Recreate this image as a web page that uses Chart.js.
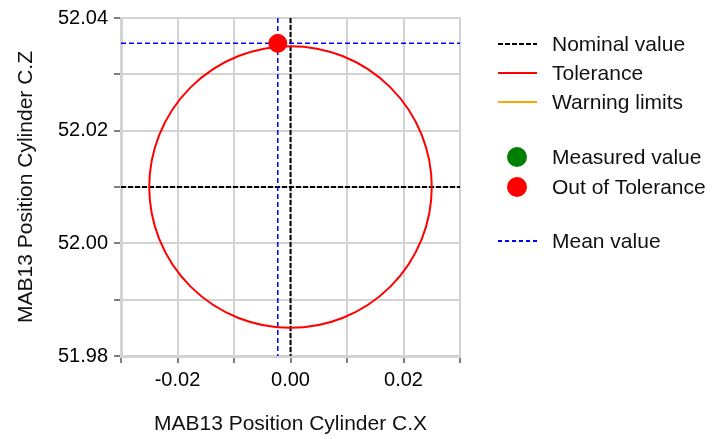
<!DOCTYPE html>
<html>
<head>
<meta charset="utf-8">
<script src="https://cdn.jsdelivr.net/npm/chart.js@4"></script>
<style>
  body { margin: 0; background: #fff; font-family: "Liberation Sans", Arial, sans-serif; }
  #wrap { position: relative; width: 720px; height: 439px; }
  .leyenda { position: absolute; left: 0; top: 0; font-size: 21px; color: #111; }
  .fila { position: absolute; left: 498px; height: 24px; white-space: nowrap; }
  .muestra { position: absolute; left: 0; width: 39px; height: 2px; top: 11px; }
  .marca { position: absolute; left: 9px; width: 20px; height: 20px; border-radius: 50%; top: 2px; }
  .texto { position: absolute; left: 54px; top: 0; line-height: 24px; }
</style>
</head>
<body>
<div id="wrap">
  <canvas id="grafico" width="720" height="439"></canvas>
  <div class="leyenda" id="leyenda"></div>
</div>
<script>
// Datos
const ejeXTitulo = 'MAB13 Position Cylinder C.X';
const ejeZTitulo = 'MAB13 Position Cylinder C.Z';
const rangoX = [-0.03, 0.03];
const rangoZ = [51.98, 52.04];
const nominalX = [0.0];
const nominalZ = [52.01];
const toleranciaRadio = [0.025];
const medidoX = [-0.00225];
const medidoZ = [52.0355];
const mediaX = [-0.00225];
const mediaZ = [52.0355];

// Leyenda (texto real en HTML)
const leyendaItems = [
    { tipo: 'linea', texto: 'Nominal value', estilo: 'repeating-linear-gradient(90deg,#000 0 5px,transparent 5px 7px)', y: 32 },
    { tipo: 'linea', texto: 'Tolerance', estilo: '#ff0000', y: 61 },
    { tipo: 'linea', texto: 'Warning limits', estilo: '#ffa500', y: 90 },
    { tipo: 'punto', texto: 'Measured value', estilo: '#008000', y: 145 },
    { tipo: 'punto', texto: 'Out of Tolerance', estilo: '#ff0000', y: 175 },
    { tipo: 'linea', texto: 'Mean value', estilo: 'repeating-linear-gradient(90deg,#0000ff 0 4px,transparent 4px 7px)', y: 229 }
];
const leyenda = document.getElementById('leyenda');
leyendaItems.forEach(item => {
    const fila = document.createElement('div');
    fila.className = 'fila';
    fila.style.top = item.y + 'px';
    const m = document.createElement('div');
    m.className = item.tipo === 'linea' ? 'muestra' : 'marca';
    m.style.background = item.estilo;
    if (item.tipo === 'linea' && item.texto === 'Mean value') { m.style.height = '1.5px'; }
    const t = document.createElement('span');
    t.className = 'texto';
    t.textContent = item.texto;
    fila.appendChild(m);
    fila.appendChild(t);
    leyenda.appendChild(fila);
});

// Plugin: líneas nominales, media y círculo de tolerancia
const dibujoTolerancia = {
    id: 'dibujoTolerancia',
    beforeDatasetsDraw(chart) {
        const { ctx, chartArea, scales } = chart;
        const x = scales.x, y = scales.y;
        ctx.save();
        ctx.beginPath();
        ctx.rect(chartArea.left, chartArea.top, chartArea.right - chartArea.left, chartArea.bottom - chartArea.top);
        ctx.clip();

        // nominal (negro discontinuo)
        ctx.strokeStyle = '#000';
        ctx.lineWidth = 2;
        ctx.setLineDash([5, 2]);
        const nx = x.getPixelForValue(nominalX[0]);
        const nz = y.getPixelForValue(nominalZ[0]);
        ctx.beginPath();
        ctx.moveTo(chartArea.left, nz); ctx.lineTo(chartArea.right, nz);
        ctx.stroke();
        ctx.beginPath();
        ctx.moveTo(nx, chartArea.top); ctx.lineTo(nx, chartArea.bottom);
        ctx.stroke();

        // media (azul discontinuo)
        ctx.strokeStyle = '#0000ff';
        ctx.lineWidth = 1.5;
        ctx.setLineDash([5, 3]);
        const mx = x.getPixelForValue(mediaX[0]);
        const mz = y.getPixelForValue(mediaZ[0]);
        ctx.beginPath();
        ctx.moveTo(chartArea.left, mz); ctx.lineTo(chartArea.right, mz);
        ctx.stroke();
        ctx.beginPath();
        ctx.moveTo(mx, chartArea.top); ctx.lineTo(mx, chartArea.bottom);
        ctx.stroke();

        // tolerancia (círculo rojo)
        ctx.setLineDash([]);
        ctx.strokeStyle = '#ff0000';
        ctx.lineWidth = 2;
        const rx = Math.abs(x.getPixelForValue(nominalX[0] + toleranciaRadio[0]) - nx);
        const ry = Math.abs(y.getPixelForValue(nominalZ[0] + toleranciaRadio[0]) - nz);
        ctx.beginPath();
        ctx.ellipse(nx, nz, rx, ry, 0, 0, Math.PI * 2);
        ctx.stroke();
        ctx.restore();
    }
};

function etiqueta(v) {
    const c = Math.round(v * 100);
    return c % 2 === 0 ? (c / 100).toFixed(2) : '';
}

const fuenteTicks = { family: '"Liberation Sans", Arial, sans-serif', size: 20 };
const fuenteTitulo = { family: '"Liberation Sans", Arial, sans-serif', size: 21 };

new Chart(document.getElementById('grafico').getContext('2d'), {
    type: 'scatter',
    data: {
        datasets: [{
            label: 'Out of Tolerance',
            data: medidoX.map((v, i) => ({ x: v, y: medidoZ[i] })),
            backgroundColor: '#ff0000',
            borderColor: '#ff0000',
            pointRadius: 9,
            pointHoverRadius: 9
        }]
    },
    options: {
        responsive: false,
        animation: false,
        layout: { padding: { top: 17, right: 260, left: 0, bottom: 0 } },
        plugins: {
            legend: { display: false },
            tooltip: { enabled: false }
        },
        scales: {
            x: {
                type: 'linear',
                min: rangoX[0],
                max: rangoX[1],
                afterFit(scale) { scale.height = 83; },
                ticks: {
                    stepSize: 0.01,
                    color: '#000',
                    font: fuenteTicks,
                    padding: 5,
                    maxRotation: 0,
                    autoSkip: false,
                    callback: etiqueta
                },
                grid: { color: '#d3d3d3', lineWidth: 2, tickColor: '#000', tickWidth: 1, tickLength: 7 },
                border: { color: '#d3d3d3', width: 3 },
                title: { display: true, text: ejeXTitulo, color: '#111', font: fuenteTitulo, padding: { top: 0, bottom: 2 } }
            },
            y: {
                type: 'linear',
                min: rangoZ[0],
                max: rangoZ[1],
                afterFit(scale) { scale.width = 121; },
                ticks: {
                    stepSize: 0.01,
                    color: '#000',
                    font: fuenteTicks,
                    padding: 6,
                    autoSkip: false,
                    callback: etiqueta
                },
                grid: { color: '#d3d3d3', lineWidth: 2, tickColor: '#000', tickWidth: 1, tickLength: 7 },
                border: { color: '#d3d3d3', width: 3 },
                title: { display: true, text: ejeZTitulo, color: '#111', font: fuenteTitulo, padding: { top: 14, bottom: 0 } }
            }
        }
    },
    plugins: [dibujoTolerancia]
});
</script>
</body>
</html>
